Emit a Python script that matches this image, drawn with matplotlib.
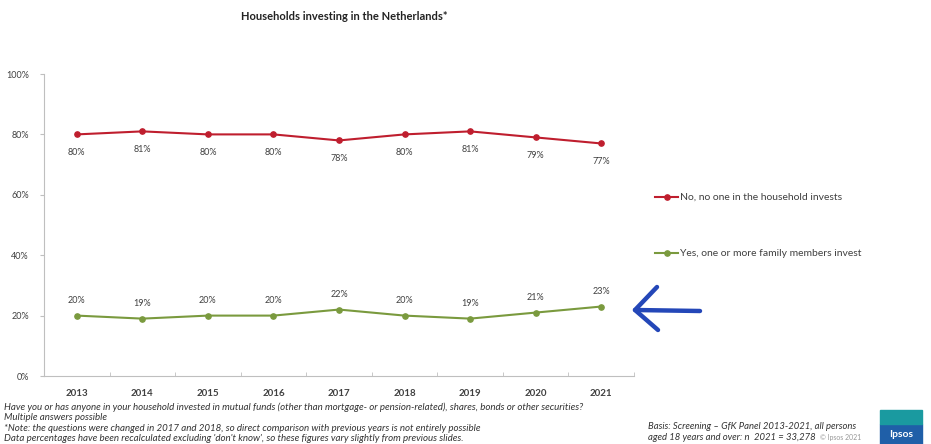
import matplotlib.pyplot as plt
from matplotlib.patches import Rectangle

years = ["2013", "2014", "2015", "2016", "2017", "2018", "2019", "2020", "2021"]
no_invest = [80, 81, 80, 80, 78, 80, 81, 79, 77]
yes_invest = [20, 19, 20, 20, 22, 20, 19, 21, 23]
no_label = "No, no one in the household invests"
yes_label = "Yes, one or more family members invest"

red = "#BF1E2E"
green = "#7A9A3E"
grey = "#BFBFBF"
txt = "#404040"

plt.rcParams['font.family'] = ['Lato', 'DejaVu Sans']

fig = plt.figure(figsize=(9.31, 4.44), dpi=100)
ax = fig.add_axes([44 / 931, 68 / 444, 590 / 931, 302 / 444])

x = list(range(len(years)))
ax.plot(x, no_invest, color=red, lw=1.5, marker="o", ms=3.8)
ax.plot(x, yes_invest, color=green, lw=1.5, marker="o", ms=3.8)

for i, v in enumerate(no_invest):
    ax.annotate(f"{v}%", (i, v), xytext=(0, -13), textcoords="offset points",
                ha="center", va="center", fontsize=6.5, color=txt)
for i, v in enumerate(yes_invest):
    ax.annotate(f"{v}%", (i, v), xytext=(0, 11), textcoords="offset points",
                ha="center", va="center", fontsize=6.5, color=txt)

ax.set_xlim(-0.5, len(years) - 0.5)
ax.set_ylim(0, 100)
ax.set_yticks(range(0, 101, 20))
ax.set_yticklabels([f"{t}%" for t in range(0, 101, 20)], fontsize=6.5, color=txt)
ax.set_xticks(x)
ax.set_xticklabels(years, fontsize=7, color=txt, fontweight="bold")
ax.set_xticks([i + 0.5 for i in range(-1, len(years))], minor=True)
ax.tick_params(axis="x", which="major", length=0, pad=9)
ax.tick_params(axis="x", which="minor", length=3, color=grey, direction="in")
ax.tick_params(axis="y", length=3, color=grey, pad=8)
for s in ["top", "right"]:
    ax.spines[s].set_visible(False)
for s in ["left", "bottom"]:
    ax.spines[s].set_color(grey)

# legend entries drawn by hand at the right of the plot
for yy, col, lab in [(197, red, no_label), (253, green, yes_label)]:
    fy = 1 - yy / 444
    fig.add_artist(plt.Line2D([655 / 931, 678 / 931], [fy, fy], color=col, lw=1.5))
    fig.add_artist(plt.Line2D([666.5 / 931], [fy], color=col, marker="o", ms=3.8))
    fig.text(680 / 931, fy, lab, fontsize=7.5, color=txt, va="center")

fig.text(344 / 931, 1 - 17 / 444, "Households investing in the Netherlands*",
         fontsize=8, fontweight="bold", color="#222222", ha="center", va="center")

# hand-drawn arrow pointing at 2021
fig.add_artist(plt.Line2D([635 / 931, 700 / 931], [1 - 310 / 444, 1 - 311 / 444],
                          color="#2447B8", lw=3.2, solid_capstyle="round"))
fig.add_artist(plt.Line2D([657 / 931, 635 / 931, 658 / 931],
                          [1 - 287 / 444, 1 - 310 / 444, 1 - 330 / 444],
                          color="#2447B8", lw=3.2, solid_capstyle="round",
                          solid_joinstyle="round"))

notes = [
    "Have you or has anyone in your household invested in mutual funds (other than mortgage- or pension-related), shares, bonds or other securities?",
    "Multiple answers possible",
    "*Note: the questions were changed in 2017 and 2018, so direct comparison with previous years is not entirely possible",
    "Data percentages have been recalculated excluding 'don't know', so these figures vary slightly from previous slides.",
]
for k, line in enumerate(notes):
    fig.text(4 / 931, 1 - (407 + k * 10.5) / 444, line, fontsize=7,
             style="italic", color="#333333", va="center")

fig.text(648 / 931, 1 - 426 / 444, "Basis: Screening \u2013 GfK Panel 2013-2021, all persons",
         fontsize=6.8, style="italic", color="#333333", va="center")
fig.text(648 / 931, 1 - 437 / 444, "aged 18 years and over: n  2021 = 33,278",
         fontsize=6.8, style="italic", color="#333333", va="center")
fig.text(820 / 931, 1 - 437 / 444, "\u00a9 Ipsos 2021", fontsize=5,
         color="#999999", va="center")

# logo block
fig.add_artist(Rectangle((880 / 931, 0), 42 / 931, 20 / 444,
                         transform=fig.transFigure, color="#1F5FA8"))
fig.add_artist(Rectangle((880 / 931, 20 / 444), 42 / 931, 14 / 444,
                         transform=fig.transFigure, color="#1A9AA0"))
fig.text(901 / 931, 1 - 434 / 444, "Ipsos", fontsize=7.5, fontweight="bold",
         color="white", ha="center", va="center")

fig.savefig("out.png", dpi=100)
